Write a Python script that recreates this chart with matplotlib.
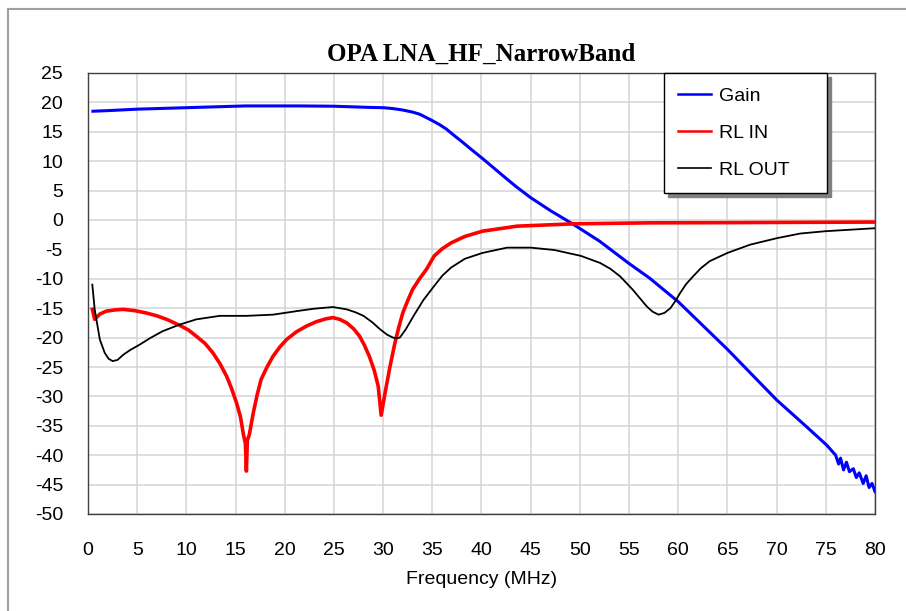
"""
OPA LNA_HF_NarrowBand: gain and return loss vs frequency.
"""

import matplotlib
matplotlib.use('Agg')
import matplotlib.pyplot as plt
from matplotlib.lines import Line2D

plt.rcParams['axes.unicode_minus'] = False

# Gain (dB) vs frequency (MHz)
gain_freq = [0.5, 2, 5, 10, 16, 21.5, 25, 28.6, 30, 31, 32, 33, 33.7, 34.3, 35,
             35.7, 36.4, 37.2, 38.1, 39, 40, 41, 42.2, 43.5, 45, 47, 49.3, 52,
             55, 57.1, 60, 65, 70, 73, 75.1, 76.0, 76.3, 76.5, 76.8, 77.1, 77.4,
             77.8, 78.1, 78.4, 78.8, 79.1, 79.4, 79.7, 80]
gain_db = [18.5, 18.6, 18.85, 19.1, 19.4, 19.4, 19.35, 19.15, 19.1, 18.95, 18.7,
           18.35, 18.0, 17.5, 16.9, 16.25, 15.5, 14.4, 13.2, 11.95, 10.6, 9.2,
           7.5, 5.7, 3.8, 1.6, -0.7, -3.6, -7.4, -9.9, -13.9, -22.0, -30.6,
           -35.1, -38.3, -40.0, -41.5, -40.5, -42.5, -41.2, -42.8, -42.3,
           -43.8, -43.0, -44.8, -43.5, -45.5, -44.8, -46.2]

# Input return loss (dB)
rlin_freq = [0.44, 0.68, 1.2, 1.86, 2.7, 3.56, 4.7, 5.9, 7.0, 8.0, 9.3, 10.2,
             11.0, 11.9, 12.7, 13.4, 14.1, 14.6, 15.1, 15.5, 15.8, 16.0, 16.1,
             16.2, 16.4, 16.8, 17.2, 17.6, 18.2, 18.8, 19.5, 20.2, 21.2, 22.2,
             23.2, 24.2, 24.9, 25.6, 26.3, 27.0, 27.6, 28.1, 28.6, 29.1, 29.5,
             29.8, 30.2, 30.7, 31.2, 31.6, 32.0, 32.5, 33.0, 33.7, 34.4, 35.2,
             36.0, 36.9, 38.3, 40.1, 43.6, 49.4, 57.2, 65, 72, 80]
rlin_db = [-15.2, -16.9, -16.0, -15.5, -15.3, -15.2, -15.4, -15.8, -16.3, -16.9,
           -17.9, -18.7, -19.75, -21.0, -22.6, -24.4, -26.6, -28.7, -31.1,
           -33.5, -36.5, -38.0, -42.7, -37.5, -36.5, -32.8, -29.7, -27.1, -25.0,
           -23.2, -21.6, -20.3, -19.0, -18.05, -17.3, -16.8, -16.6, -16.9,
           -17.5, -18.5, -19.75, -21.3, -23.2, -25.6, -28.25, -33.2, -29.4,
           -24.9, -20.9, -18.2, -15.8, -13.7, -11.8, -10.0, -8.4, -6.1, -4.9,
           -3.9, -2.8, -1.9, -1.05, -0.65, -0.48, -0.45, -0.4, -0.35]

# Output return loss (dB)
rlout_freq = [0.44, 0.68, 1.2, 1.7, 2.1, 2.5, 3.0, 3.6, 4.3, 5.25, 6.3, 7.6,
              9.3, 11.0, 13.4, 16.1, 18.8, 21.2, 22.9, 24.9, 26.3, 27.2, 28.0,
              28.9, 29.7, 30.4, 31.0, 31.4, 31.7, 32.3, 33.1, 34.1, 35.2, 36.0,
              36.9, 38.3, 40.1, 42.6, 45, 47.4, 50.1, 52.05, 53.1, 54.1, 55.4,
              56.2, 56.8, 57.4, 58.0, 58.6, 59.2, 59.7, 60.2, 60.8, 61.5, 62.3,
              63.2, 65, 67.3, 70, 72.4, 75, 80]
rlout_db = [-11.0, -15.2, -20.3, -22.6, -23.6, -24.0, -23.8, -22.9, -22.1, -21.2,
            -20.1, -18.9, -17.8, -16.9, -16.3, -16.3, -16.1, -15.5, -15.1, -14.8,
            -15.2, -15.7, -16.3, -17.4, -18.6, -19.5, -20.0, -20.1, -20.0, -18.6,
            -16.3, -13.6, -11.2, -9.5, -8.1, -6.6, -5.6, -4.7, -4.7, -5.1, -6.1,
            -7.3, -8.3, -9.6, -11.9, -13.5, -14.7, -15.6, -16.1, -15.8, -15.0,
            -13.8, -12.4, -10.9, -9.6, -8.2, -7.0, -5.6, -4.2, -3.1, -2.3, -1.9,
            -1.4]

x_ticks = list(range(0, 81, 5))
y_ticks = list(range(-50, 26, 5))

sans = ['Liberation Sans', 'DejaVu Sans']
serif = ['Liberation Serif', 'DejaVu Serif']

fig = plt.figure(figsize=(9.06, 6.11), dpi=100)
ax = fig.add_axes([88 / 906, 97 / 611, 787 / 906, 441 / 611])

ax.plot(gain_freq, gain_db, color='#0000ff', lw=2.2, label='Gain', zorder=3)
ax.plot(rlin_freq, rlin_db, color='#ff0000', lw=2.6, label='RL IN', zorder=3)
ax.plot(rlout_freq, rlout_db, color='black', lw=1.3, label='RL OUT', zorder=4)

ax.set_xlim(0, 80)
ax.set_ylim(-50, 25)
ax.set_xticks(x_ticks)
ax.set_yticks(y_ticks)
ax.grid(True, color='#d4d4d4', lw=1.1)
ax.set_axisbelow(True)
ax.tick_params(length=0, labelsize=14)
ax.tick_params(axis='x', pad=20)
ax.tick_params(axis='y', pad=18)
for lab in ax.get_xticklabels() + ax.get_yticklabels():
    lab.set_family(sans)
for sp in ax.spines.values():
    sp.set_color('#404040')
    sp.set_linewidth(1.0)

ax.set_xlabel('Frequency (MHz)', family=sans, fontsize=14, labelpad=9)
ax.set_title('OPA LNA_HF_NarrowBand', family=serif, fontsize=18,
             fontweight='bold', pad=9)

leg = ax.legend(loc='upper left', bbox_to_anchor=(576 / 787, 1.0, 163 / 787, 0),
                mode='expand', borderaxespad=0, frameon=True, fancybox=False,
                edgecolor='black', framealpha=1, handlelength=1.7,
                handletextpad=0.4, labelspacing=1.0, borderpad=0.72,
                prop={'family': sans, 'size': 14},
                shadow={'color': '#808080', 'alpha': 1, 'ox': 3, 'oy': -3})
leg.get_frame().set_linewidth(1.0)
for line in leg.get_lines():
    line.set_linewidth(1.8 if line.get_color() != 'black' else 1.2)

# outer chart frame
fig.add_artist(Line2D([8 / 906, 8 / 906], [0, 1 - 9 / 611], color='#a0a0a0', lw=1.5))
fig.add_artist(Line2D([8 / 906, 1], [1 - 9 / 611, 1 - 9 / 611], color='#a0a0a0', lw=1.5))

fig.savefig('out.png', dpi=100)
